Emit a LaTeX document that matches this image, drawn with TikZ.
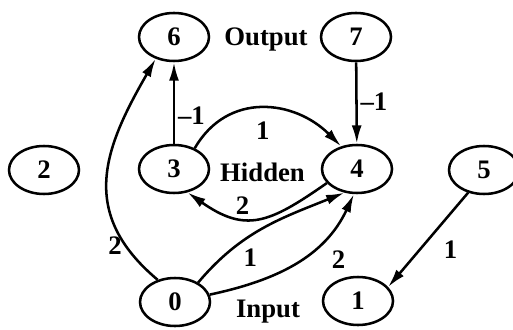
\documentclass[tikz,border=0pt]{standalone}
\usepackage{fontspec}
\setmainfont{Liberation Serif}
\usetikzlibrary{arrows.meta,shapes.geometric}

\tikzset{
  unit/.style={ellipse,draw,line width=1.8pt,minimum width=1.75cm,minimum height=1.2cm,inner sep=0pt},
  link/.style={line width=1.8pt,-{Latex[length=13pt,width=7pt]}},
  weight/.style={inner sep=2pt},
  layer/.style={inner sep=0pt,anchor=base}
}

\begin{document}
\begin{tikzpicture}[font=\fontsize{19}{22}\selectfont\bfseries]
\useasboundingbox (0,0) rectangle (12.825,8.225);

\node[unit] (n6) at (4.35,7.3) {6};
\node[unit] (n7) at (8.9,7.3) {7};
\node[unit] (n2) at (1.1,3.975) {2};
\node[unit] (n3) at (4.35,4.0) {3};
\node[unit] (n4) at (8.925,4.0) {4};
\node[unit] (n5) at (12.1,3.975) {5};
\node[unit] (n0) at (4.375,0.675) {0};
\node[unit] (n1) at (8.95,0.7) {1};

\node[layer] (output) at (6.65,7.075) {Output};
\node[layer] (hidden) at (6.5625,3.675) {Hidden};
\node[layer] (input) at (6.7,0.3) {Input};

\draw[link] (n3) -- node[weight,right,pos=0.35] {--1} (n6);
\draw[link] (n7) -- node[weight,right,pos=0.48] {--1} (n4);

\draw[link] (n3.45) to[out=60,in=135,looseness=1.15] node[weight,below=7pt] {1} (n4.125);
\draw[link] (n4.-155) to[out=-145,in=-35,looseness=1.3] node[weight,above,pos=0.62] {2} (n3.-60);

\draw[link] (n0.128) to[out=140,in=-120,looseness=1.2] node[weight,left,pos=0.17] {2} (n6.-130);
\draw[link] (n0.40) to[out=50,in=-158] node[weight,below=6pt,pos=0.4] {1} (n4.-118);
\draw[link] (n0.12) to[out=12,in=-115] node[weight,below right,pos=0.65,xshift=8pt] {2} (n4.-97);

\draw[link] (n5.-125) -- node[weight,right=14pt,pos=0.6] {1} (n1.25);

\end{tikzpicture}
\end{document}
